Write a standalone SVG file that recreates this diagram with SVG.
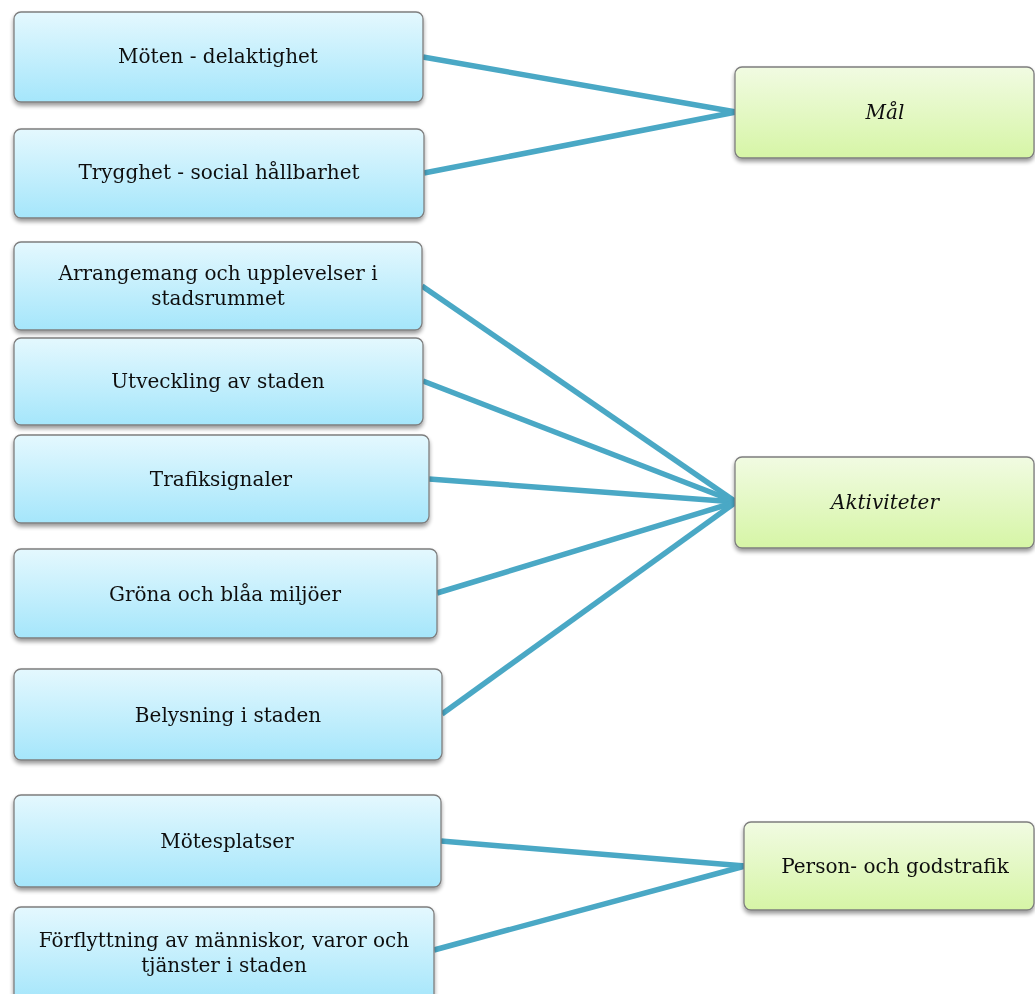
<svg xmlns="http://www.w3.org/2000/svg" width="1035" height="994" viewBox="0 0 1035 994">
<defs>
<linearGradient id="gb" x1="0" y1="0" x2="0" y2="1">
<stop offset="0" stop-color="#e4f8fe"/>
<stop offset="1" stop-color="#a5e6fb"/>
</linearGradient>
<linearGradient id="gg" x1="0" y1="0" x2="0" y2="1">
<stop offset="0" stop-color="#f1fbe2"/>
<stop offset="1" stop-color="#d6f5a6"/>
</linearGradient>
<filter id="sh" x="-5%" y="-10%" width="110%" height="130%">
<feGaussianBlur in="SourceAlpha" stdDeviation="2"/>
<feOffset dx="0" dy="3" result="b"/>
<feComponentTransfer><feFuncA type="linear" slope="0.4"/></feComponentTransfer>
<feMerge><feMergeNode/><feMergeNode in="SourceGraphic"/></feMerge>
</filter>
</defs>
<style>
.b{fill:url(#gb);stroke:#7e7e7e;stroke-width:1.3}
.g{fill:url(#gg);stroke:#7e7e7e;stroke-width:1.3}
text{font-family:"DejaVu Serif","Liberation Serif",serif;font-size:20px;fill:#111;text-anchor:middle}
.i{font-style:italic}
.c line{stroke:#4aa8c5;stroke-width:5.5;stroke-linecap:butt}
</style>
<g class="c" id="connectors">
<line x1="423" y1="57" x2="736" y2="112"/>
<line x1="424" y1="173" x2="736" y2="112"/>
<line x1="422" y1="286" x2="736" y2="502"/>
<line x1="423" y1="381" x2="736" y2="502"/>
<line x1="429" y1="479" x2="736" y2="502"/>
<line x1="437" y1="593" x2="736" y2="502"/>
<line x1="442" y1="714" x2="736" y2="502"/>
<line x1="441" y1="841" x2="745" y2="866"/>
<line x1="434" y1="950" x2="745" y2="866"/>
</g>
<g id="n1" filter="url(#sh)"><rect class="b" x="14" y="12" width="409" height="90" rx="7"/><text x="218" y="63">Möten - delaktighet</text></g>
<g id="n2" filter="url(#sh)"><rect class="b" x="14" y="129" width="410" height="89" rx="7"/><text x="219" y="179">Trygghet - social hållbarhet</text></g>
<g id="n3" filter="url(#sh)"><rect class="b" x="14" y="242" width="408" height="88" rx="7"/><text x="218" y="280">Arrangemang och upplevelser i</text><text x="218" y="305">stadsrummet</text></g>
<g id="n4" filter="url(#sh)"><rect class="b" x="14" y="338" width="409" height="87" rx="7"/><text x="218" y="388">Utveckling av staden</text></g>
<g id="n5" filter="url(#sh)"><rect class="b" x="14" y="435" width="415" height="88" rx="7"/><text x="221" y="486">Trafiksignaler</text></g>
<g id="n6" filter="url(#sh)"><rect class="b" x="14" y="549" width="423" height="89" rx="7"/><text x="225" y="601">Gröna och blåa miljöer</text></g>
<g id="n7" filter="url(#sh)"><rect class="b" x="14" y="669" width="428" height="91" rx="7"/><text x="228" y="722">Belysning i staden</text></g>
<g id="n8" filter="url(#sh)"><rect class="b" x="14" y="795" width="427" height="92" rx="7"/><text x="227" y="848">Mötesplatser</text></g>
<g id="n9" filter="url(#sh)"><rect class="b" x="14" y="907" width="420" height="95" rx="7"/><text x="224" y="947">Förflyttning av människor, varor och</text><text x="224" y="972">tjänster i staden</text></g>
<g id="m1" filter="url(#sh)"><rect class="g" x="735" y="67" width="299" height="91" rx="7"/><text class="i" x="885" y="119">Mål</text></g>
<g id="m2" filter="url(#sh)"><rect class="g" x="735" y="457" width="299" height="91" rx="7"/><text class="i" x="885" y="509">Aktiviteter</text></g>
<g id="m3" filter="url(#sh)"><rect class="g" x="744" y="822" width="290" height="88" rx="7"/><text x="895" y="873">Person- och godstrafik</text></g>
</svg>
